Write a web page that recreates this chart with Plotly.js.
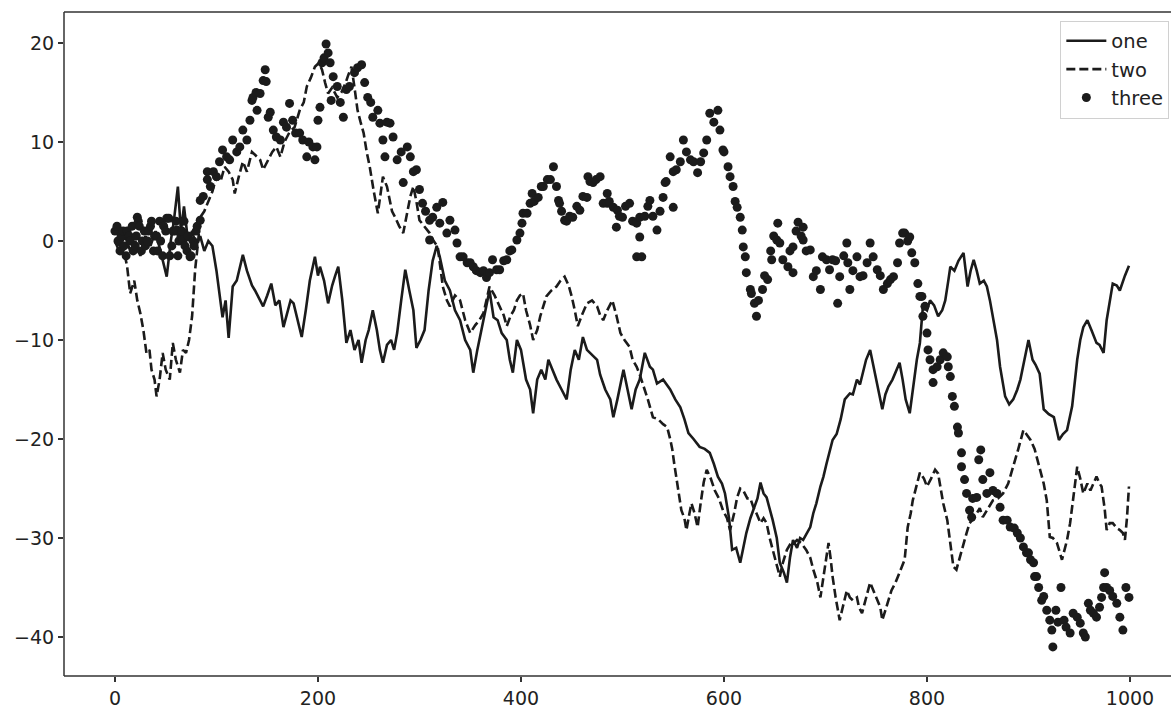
<!DOCTYPE html>
<html>
<head>
<meta charset="utf-8">
<script src="https://cdn.plot.ly/plotly-3.0.1.min.js"></script>
<style>html,body{margin:0;padding:0;background:#fff;overflow:hidden;}#chart{width:1171px;height:709px;}</style>
</head>
<body>
<div id="chart"></div>
<script>
// Series "one" (solid)
const oneX = [0,5,10,15,20,25,30,35,40,45,51,55,58,62,65,68,72,76,80,84,88,92,96,100,106,109,112,116,120,126,130,135,138,143,146,150,154,158,162,166,170,173,176,180,184,188,192,197,200,202,206,210,214,217,220,224,228,232,236,240,243,247,250,254,258,261,264,268,272,275,278,282,286,290,294,297,301,305,309,313,317,320,325,330,335,340,345,350,353,357,361,366,369,373,377,381,386,389,392,396,400,405,409,412,416,420,424,427,431,435,440,445,449,453,457,461,465,470,475,478,483,488,491,495,501,505,509,513,517,522,527,530,534,540,547,552,557,561,565,570,576,581,586,590,594,598,601,605,608,612,616,619,622,626,629,633,636,639,642,645,648,652,655,659,662,665,668,672,675,678,682,685,688,691,695,698,701,704,707,711,715,719,724,727,731,734,737,740,744,748,752,756,759,762,766,770,773,776,779,783,787,790,793,796,800,803,807,811,815,818,821,823,827,831,836,840,843,846,849,852,856,859,862,865,869,872,877,881,885,889,892,896,900,904,907,911,915,920,925,930,934,938,943,948,951,954,958,962,967,970,974,977,980,983,987,990,995,999];
const oneY = [0,-0.5,0.5,-1,0,-1.5,0.5,-0.5,1,-1,-3.6,0,2,5.5,1,3.5,0,1,-0.5,0.5,-1,0,-0.5,-3,-7.7,-6,-9.8,-4.6,-4,-1.4,-3,-4.5,-5,-6,-6.6,-5.5,-4.3,-6.5,-6,-8.7,-7,-6,-6.3,-8,-9.7,-7,-4,-1.6,-3.5,-2.6,-4,-6.3,-4.5,-3.5,-2.6,-6,-10.3,-9,-11,-10,-12.3,-10,-9,-7,-9,-11,-12.3,-10.5,-10,-11,-9.3,-6,-2.9,-5,-7,-10.8,-10,-9,-5,-2,-0.5,-1.6,-4,-5,-7,-8,-10,-11,-13.3,-11,-9,-6.3,-5,-7.7,-8,-9.3,-10,-12,-13.3,-10,-11,-14,-15,-17.4,-14,-13,-14,-12,-13,-14,-15,-16,-13,-11,-12,-9.7,-11,-11.5,-12,-13.5,-15,-16,-17.8,-16,-13,-15,-17,-15,-14,-11.3,-12.7,-13,-14.4,-14,-15,-16,-16.8,-18,-19.4,-20,-20.8,-21,-21.4,-22.5,-23.8,-24.5,-25.5,-28,-31.2,-31,-32.5,-31,-29.5,-28,-27.2,-26,-24.4,-25.5,-25.9,-27,-28.2,-30,-32.5,-33.5,-34.5,-32,-30.2,-31,-30,-30.2,-29.5,-28.9,-27.5,-26.5,-24.8,-23.8,-22.5,-21.4,-20.1,-19.5,-18,-16,-15.4,-15.5,-14,-14.5,-13.3,-12,-11,-13,-15,-17,-15.5,-14.7,-14,-13,-12.3,-14,-16,-17.4,-14,-12,-10.3,-6.6,-7,-6,-6.5,-7.6,-7,-6,-4,-2.6,-3,-2,-1.2,-4.6,-3,-1.9,-3,-4.3,-4,-4.6,-6,-7.6,-10,-12.7,-15.7,-16.5,-16,-15,-14,-12,-10,-12,-12.5,-13.4,-17,-17.5,-17.8,-20.1,-19.5,-19.1,-16.7,-12,-10,-8.7,-8,-9,-10.3,-10.5,-11.3,-8,-6,-4.3,-4.5,-5,-3.5,-2.5];

// Series "two" (dashed)
const twoX = [0,4,8,12,15,19,22,25,28,31,34,36,39,41,44,47,50,54,57,60,64,67,70,73,76,79,82,84,88,92,96,100,104,108,112,116,118,122,126,130,135,140,143,146,150,155,159,163,167,172,177,182,186,189,193,197,201,204,207,210,214,219,223,227,230,233,236,239,242,245,248,251,255,259,262,264,268,271,273,276,280,284,288,291,294,297,300,305,310,314,318,323,327,330,335,340,345,350,355,359,363,366,369,374,379,383,386,390,393,396,399,402,405,409,412,416,419,422,425,430,435,439,443,447,450,453,456,460,465,470,475,478,481,485,490,494,498,502,507,510,514,517,520,525,530,535,540,544,547,549,551,553,556,558,561,563,566,568,571,574,577,580,583,587,591,595,599,603,606,610,613,616,619,623,626,629,632,636,639,642,645,648,651,655,658,662,666,669,672,676,681,685,688,692,695,699,703,705,707,710,714,717,721,724,727,731,733,736,740,744,748,751,754,756,760,765,769,773,778,781,784,786,790,793,797,800,804,808,811,813,816,820,823,826,829,832,836,839,842,846,849,852,855,860,865,870,875,880,885,890,895,898,902,906,911,915,918,921,924,928,933,938,941,944,948,951,954,958,961,964,967,970,972,975,977,980,983,987,990,993,995,997,999];
const twoY = [0,-1,-0.5,-2.6,-5.3,-4,-6,-7.3,-9,-11.3,-11,-13,-14,-15.7,-14,-11.3,-13,-14,-10.3,-12,-13.3,-11,-11.3,-10,-7.6,-2.9,0,2.4,3,4,5,6.5,6,7.5,7,6.2,4.8,6.5,8,7,9,8.5,8.2,7.2,8,9,9.5,8.5,10,11,11.5,13.2,14,15.6,16.5,17.6,18,17.3,16,14.9,15.5,14.5,15,15.9,16.8,17.6,15.5,13.2,12,10.9,9,7.5,5,2.8,5,6.5,5.5,4.1,3,2.4,1.5,0.8,3,4.5,5.5,4,2.1,1.5,0.8,0,-0.6,-4.6,-6,-6.6,-5.5,-6,-8,-9.3,-8.5,-8,-7.3,-6,-4.6,-5.5,-6.6,-7.5,-8.6,-7.5,-7,-6,-5.5,-5.3,-7,-8.5,-10,-9,-7.6,-6.5,-5.6,-5,-4.6,-4,-3.6,-4.5,-5.6,-7,-8.6,-7.5,-6.3,-6,-6.6,-7.5,-8,-7,-6,-7.5,-9.3,-10,-10.7,-12,-12.7,-13.5,-14.4,-16,-17.8,-18,-18.5,-18.8,-20,-21,-22.5,-23.8,-26,-27.2,-28,-29.2,-27.5,-26.5,-27.5,-28.9,-26.5,-24.4,-23.1,-24,-25.2,-26,-27.2,-28,-29.2,-27.5,-25.9,-25,-25.2,-26,-26,-26.9,-27.5,-28.5,-28,-28.5,-30,-31.2,-32.5,-33.9,-32.5,-31.2,-30.5,-30.5,-30.2,-30.5,-31.2,-32,-33.2,-34.5,-36,-33,-30.5,-32,-33.9,-36,-38.3,-37,-35.3,-36,-36.3,-36,-37,-37.6,-36,-34.5,-35.5,-36.3,-37,-38.3,-37,-35.3,-34.5,-33.5,-32.2,-28.9,-27.5,-26.2,-24.5,-23.4,-24,-24.8,-24,-23.1,-23.5,-24.8,-26.5,-28.2,-30.5,-32.9,-33.2,-32,-30.5,-29.5,-28.5,-28,-27.5,-27,-27.9,-27,-26.2,-26,-25.5,-24.5,-22.8,-21,-19.1,-19.5,-20.1,-21,-22.8,-24.5,-26.2,-29.9,-30,-30.5,-32.2,-30.2,-28.5,-26.2,-22.8,-24,-25.5,-24.5,-25.2,-24.5,-23.8,-24.5,-24.8,-27,-29.2,-28.5,-28.5,-29,-29.2,-29.5,-30.2,-28,-24.8];

// Series "three" (dots)
const threeX = [0,2,3,5,6,8,9,11,12,14,15,17,18,20,21,22,23,24,26,27,29,30,32,33,35,36,38,39,41,42,44,45,47,48,50,51,53,54,56,57,59,60,61,62,63,65,66,67,68,69,71,72,74,75,77,78,80,81,84,84,87,91,91,94,97,100,103,106,110,113,116,120,123,126,130,133,135,136,139,140,143,146,148,149,151,153,156,159,163,166,169,172,175,178,182,185,189,191,195,197,199,200,202,204,206,208,210,212,213,215,219,222,225,228,231,236,239,243,246,249,252,254,259,261,264,266,268,271,274,278,282,284,288,291,294,297,300,303,306,310,310,313,317,320,323,327,330,335,337,340,343,347,350,353,356,360,363,366,369,372,376,379,383,386,389,391,396,399,401,402,406,409,411,413,417,420,422,426,429,432,435,437,438,440,443,445,448,451,455,458,461,465,466,468,471,474,478,481,485,485,487,491,494,495,497,500,503,507,510,514,514,517,517,519,522,525,527,530,534,537,540,542,543,547,550,550,553,557,560,563,567,570,574,577,580,583,586,590,594,596,599,600,604,606,609,611,613,616,618,619,621,622,626,627,630,632,634,638,640,643,646,647,649,652,653,655,658,663,665,668,668,671,673,676,678,678,681,685,688,691,695,697,701,704,707,710,712,714,718,721,722,724,727,731,734,737,741,744,747,751,754,757,761,764,767,771,773,776,778,781,783,785,788,791,793,795,796,798,800,801,803,806,806,810,813,816,820,821,823,825,827,830,831,834,834,837,839,842,844,845,849,851,853,855,859,862,865,869,872,875,879,882,886,889,892,895,898,900,902,905,906,908,910,913,915,918,921,923,924,927,929,932,935,937,941,944,948,951,954,956,959,961,964,967,970,972,974,975,977,980,983,987,990,993,996,999];
const threeY = [1,1.5,0,-1,0.5,1,-0.5,-1.5,1,0.5,0,1.5,-1,-0.5,0.5,2.4,2,1.5,-1,0,1,-0.5,0,1,1.5,2,-1,0.5,0.5,-1,2,0,-1.5,1.5,1,2.3,2.3,-1.5,-0.5,1,1,2,1.1,-1.5,0,0.5,1,0.1,2,-0.5,-1,0.5,-1.6,-1.5,0,-0.5,1,1.5,2.1,4.1,4.5,7,6.2,5.5,7,6.5,8,9.2,8.5,8.2,10.2,9,9.5,11.2,10.2,12.2,14.2,14.5,15,13.2,14.9,16.2,17.3,16.1,12.5,13,11.2,10.5,10.2,12,11.5,13.9,12.2,10.9,10.9,10.2,8.5,10,9.5,8.2,9.5,12.2,13.5,18,18.5,19.9,19,18,14.2,16.6,15.6,14,12.5,15.3,15.6,17,17.5,17.8,16,14.5,14,12.5,13.2,11.9,10.2,8.5,12,11.9,10.5,8.2,9,5.9,9.5,8.5,7,7.2,5.2,3.8,3,0.1,2.1,2.4,3.4,1.8,3.9,0.8,2.1,1.1,-0.2,-1.6,-1.6,-2.2,-2.2,-2.6,-3,-3.2,-3,-3.7,-3.2,-1.9,-2.9,-2.9,-2,-1.9,-1,-0.9,0.1,0.8,1.8,2.8,2.8,3.8,4.8,4,4.4,5.5,5.5,6.2,6.2,7.5,5.5,4.1,3.8,3,2.1,2,2.5,2.4,3.5,3.1,4.5,4.4,6.5,6,5.9,6.2,6.5,3.8,4.8,3.8,4,3.4,1.4,3.1,2.5,2.4,3.5,3.8,2,1.8,-1.6,0.4,2.4,-1.6,2.5,3.5,4.1,2.5,1.1,3,4.4,5.9,6,8.5,3.4,7,7.2,8,10.2,9,8.2,8,6.9,8,8.9,10.2,12.9,12,13.2,11.2,9.2,9,7.5,6.5,5.5,4,3.4,2.4,1.1,-0.6,-1.6,-3.2,-4.9,-5.3,-6.3,-7.6,-6,-4.9,-3.5,-3.9,-1,-1.9,0.5,0.1,1.8,-0.2,-1.9,-2.6,-1,-3.2,-0.6,1,1.9,0.5,1.4,0.1,-1,-0.9,-3.6,-3,-4.9,-1.6,-1.9,-2.9,-1.9,-2,-6.3,-3.6,-1.5,-0.2,-2.2,-4.9,-3,-1.6,-3.6,-3.5,-2.2,-0.2,-1.6,-2.9,-3.5,-4.9,-4.3,-3.9,-3.6,-2.2,-0.2,0.8,0.8,0,0.4,-1.2,-2.2,-4.3,-5.6,-5.6,-7.6,-6.6,-9.3,-11,-12,-13,-14.3,-12.7,-12,-11.3,-11.7,-12.7,-13.7,-15.7,-16.7,-18.8,-19.4,-21.4,-22.8,-24.1,-25.5,-27.2,-27.9,-26,-25.9,-22.1,-21.1,-24.1,-25.5,-23.4,-25.2,-25.5,-26.9,-28.2,-28.2,-28.9,-29,-29.5,-30,-30.9,-31.5,-31.5,-32.2,-32.5,-33.9,-33.9,-35,-36.3,-35.9,-37.3,-38.3,-39.3,-41,-37.3,-38.5,-35,-38.3,-39,-39.6,-37.6,-38,-38.6,-39.6,-40,-36.6,-37.3,-37.6,-38,-37,-36,-35,-33.5,-35,-35.3,-35.9,-36.6,-38,-39.3,-35,-36];

const names = ['one','two','three'];
const xTicks = [0,200,400,600,800,1000];
const yTicks = [-40,-30,-20,-10,0,10,20];
const ink = '#1b1b1b';
const spine = {color: '#333', width: 1.5};

const traces = [
  {x: oneX, y: oneY, name: names[0], type: 'scatter', mode: 'lines', line: {color: ink, width: 2.6}},
  {x: twoX, y: twoY, name: names[1], type: 'scatter', mode: 'lines', line: {color: ink, width: 2.6, dash: '9px,4px'}},
  {x: threeX, y: threeY, name: names[2], type: 'scatter', mode: 'markers', marker: {color: ink, size: 9}}
];

const font = {family: 'DejaVu Sans, sans-serif', size: 19, color: '#222'};
const layout = {
  width: 1171, height: 709,
  margin: {l: 64, r: 0, t: 12, b: 33, pad: 0},
  paper_bgcolor: '#ffffff', plot_bgcolor: '#ffffff',
  font: font,
  showlegend: true,
  legend: {x: 0.9985, y: 0.987, xanchor: 'right', yanchor: 'top', bgcolor: '#ffffff', bordercolor: '#d0d0d0', borderwidth: 1, font: {family: 'DejaVu Sans, sans-serif', size: 19.5, color: '#222'}, tracegroupgap: 0, itemwidth: 40},
  xaxis: {range: [-50.2, 1040.4], tickvals: xTicks, ticks: 'outside', ticklen: 5, tickwidth: 1.3, tickcolor: '#333', showgrid: false, zeroline: false, showline: false, tickfont: font},
  yaxis: {range: [-43.94, 23.13], tickvals: yTicks, ticks: 'outside', ticklen: 5, tickwidth: 1.3, tickcolor: '#333', showgrid: false, zeroline: false, showline: false, tickfont: font},
  shapes: [
    {type: 'line', xref: 'paper', yref: 'paper', x0: 0, x1: 1, y0: 1, y1: 1, line: spine},
    {type: 'line', xref: 'paper', yref: 'paper', x0: 0, x1: 1, y0: 0, y1: 0, line: spine},
    {type: 'line', xref: 'paper', yref: 'paper', x0: 0, x1: 0, y0: 0, y1: 1, line: spine}
  ]
};
Plotly.newPlot('chart', traces, layout, {displayModeBar: false, staticPlot: true});
</script>
</body>
</html>
